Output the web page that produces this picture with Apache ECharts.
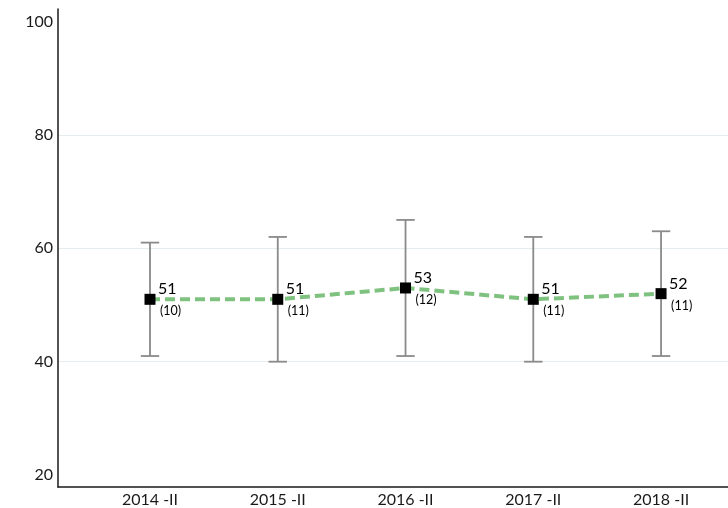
<!DOCTYPE html>
<html>
<head>
<meta charset="utf-8">
<script src="https://cdn.jsdelivr.net/npm/echarts@6/dist/echarts.min.js"></script>
<style>
  html, body { margin: 0; padding: 0; background: #fff; }
  #chart { width: 728px; height: 508px; }
</style>
</head>
<body>
<div id="chart"></div>
<script>
// Period labels along the bottom axis
const periods = ['2014 -II', '2015 -II', '2016 -II', '2017 -II', '2018 -II'];
// Mean score per period
const means = [51, 51, 53, 51, 52];
// Lower and upper ends of each range bar
const lows = [41, 40, 41, 40, 41];
const highs = [61, 62, 65, 62, 63];
// Sample counts shown in brackets under each mean
const counts = [10, 11, 12, 11, 11];
// Vertical axis tick labels and grid lines
const yTicks = [20, 40, 60, 80, 100];
const yGrid = [40, 60, 80];

const FONT = 'Lato, "Open Sans", sans-serif';

const positions = periods.map((_, i) => i + 1);
const lineData = means.map((m, i) => [positions[i], m]);
const barData = lows.map((lo, i) => [positions[i], lo, highs[i]]);

const chart = echarts.init(document.getElementById('chart'), null, { renderer: 'canvas' });

chart.setOption({
  animation: false,
  backgroundColor: '#ffffff',
  grid: { left: 58, right: 0, top: 9, bottom: 21, containLabel: false },
  xAxis: {
    type: 'value',
    min: 0.28,
    max: 5.524,
    axisLine: { show: true, onZero: false, lineStyle: { color: '#1a1a1a', width: 1.5 } },
    axisTick: { show: false },
    splitLine: { show: false },
    axisLabel: {
      customValues: positions,
      formatter: v => periods[Math.round(v) - 1] || '',
      color: '#1a1a1a',
      fontFamily: FONT,
      fontSize: 16,
      margin: 5
    }
  },
  yAxis: {
    type: 'value',
    min: 17.9,
    max: 102.2,
    axisLine: { show: true, lineStyle: { color: '#1a1a1a', width: 1.5 } },
    axisTick: { show: false, customValues: yGrid },
    splitLine: { show: true, lineStyle: { color: '#e5ecef', width: 1.2 } },
    axisLabel: {
      customValues: yTicks,
      color: '#1a1a1a',
      fontFamily: FONT,
      fontSize: 16,
      margin: 5
    }
  },
  series: [
    {
      type: 'custom',
      name: 'range',
      data: barData,
      z: 2,
      renderItem: (params, api) => {
        const x = api.value(0);
        const top = api.coord([x, api.value(2)]);
        const bot = api.coord([x, api.value(1)]);
        const half = 9.2;
        const style = { stroke: '#8a8a8a', lineWidth: 1.8 };
        return {
          type: 'group',
          children: [
            { type: 'line', shape: { x1: top[0], y1: top[1], x2: bot[0], y2: bot[1] }, style },
            { type: 'line', shape: { x1: top[0] - half, y1: top[1], x2: top[0] + half, y2: top[1] }, style },
            { type: 'line', shape: { x1: bot[0] - half, y1: bot[1], x2: bot[0] + half, y2: bot[1] }, style }
          ]
        };
      }
    },
    {
      type: 'line',
      name: 'mean',
      data: lineData,
      z: 3,
      symbol: 'rect',
      symbolSize: 11,
      itemStyle: { color: '#000000' },
      lineStyle: { color: '#7fc27f', width: 4, type: [10, 5] },
      label: {
        show: true,
        position: [13.5, -15.5],
        align: 'left',
        verticalAlign: 'top',
        formatter: p => '{v|' + p.value[1] + '}\n{n|(' + counts[p.dataIndex] + ')}',
        rich: {
          v: { fontFamily: FONT, fontSize: 16, color: '#000', lineHeight: 22 },
          n: { fontFamily: FONT, fontSize: 12.5, color: '#000', lineHeight: 22, padding: [0, 0, 0, 2] }
        }
      }
    }
  ]
});
</script>
</body>
</html>
